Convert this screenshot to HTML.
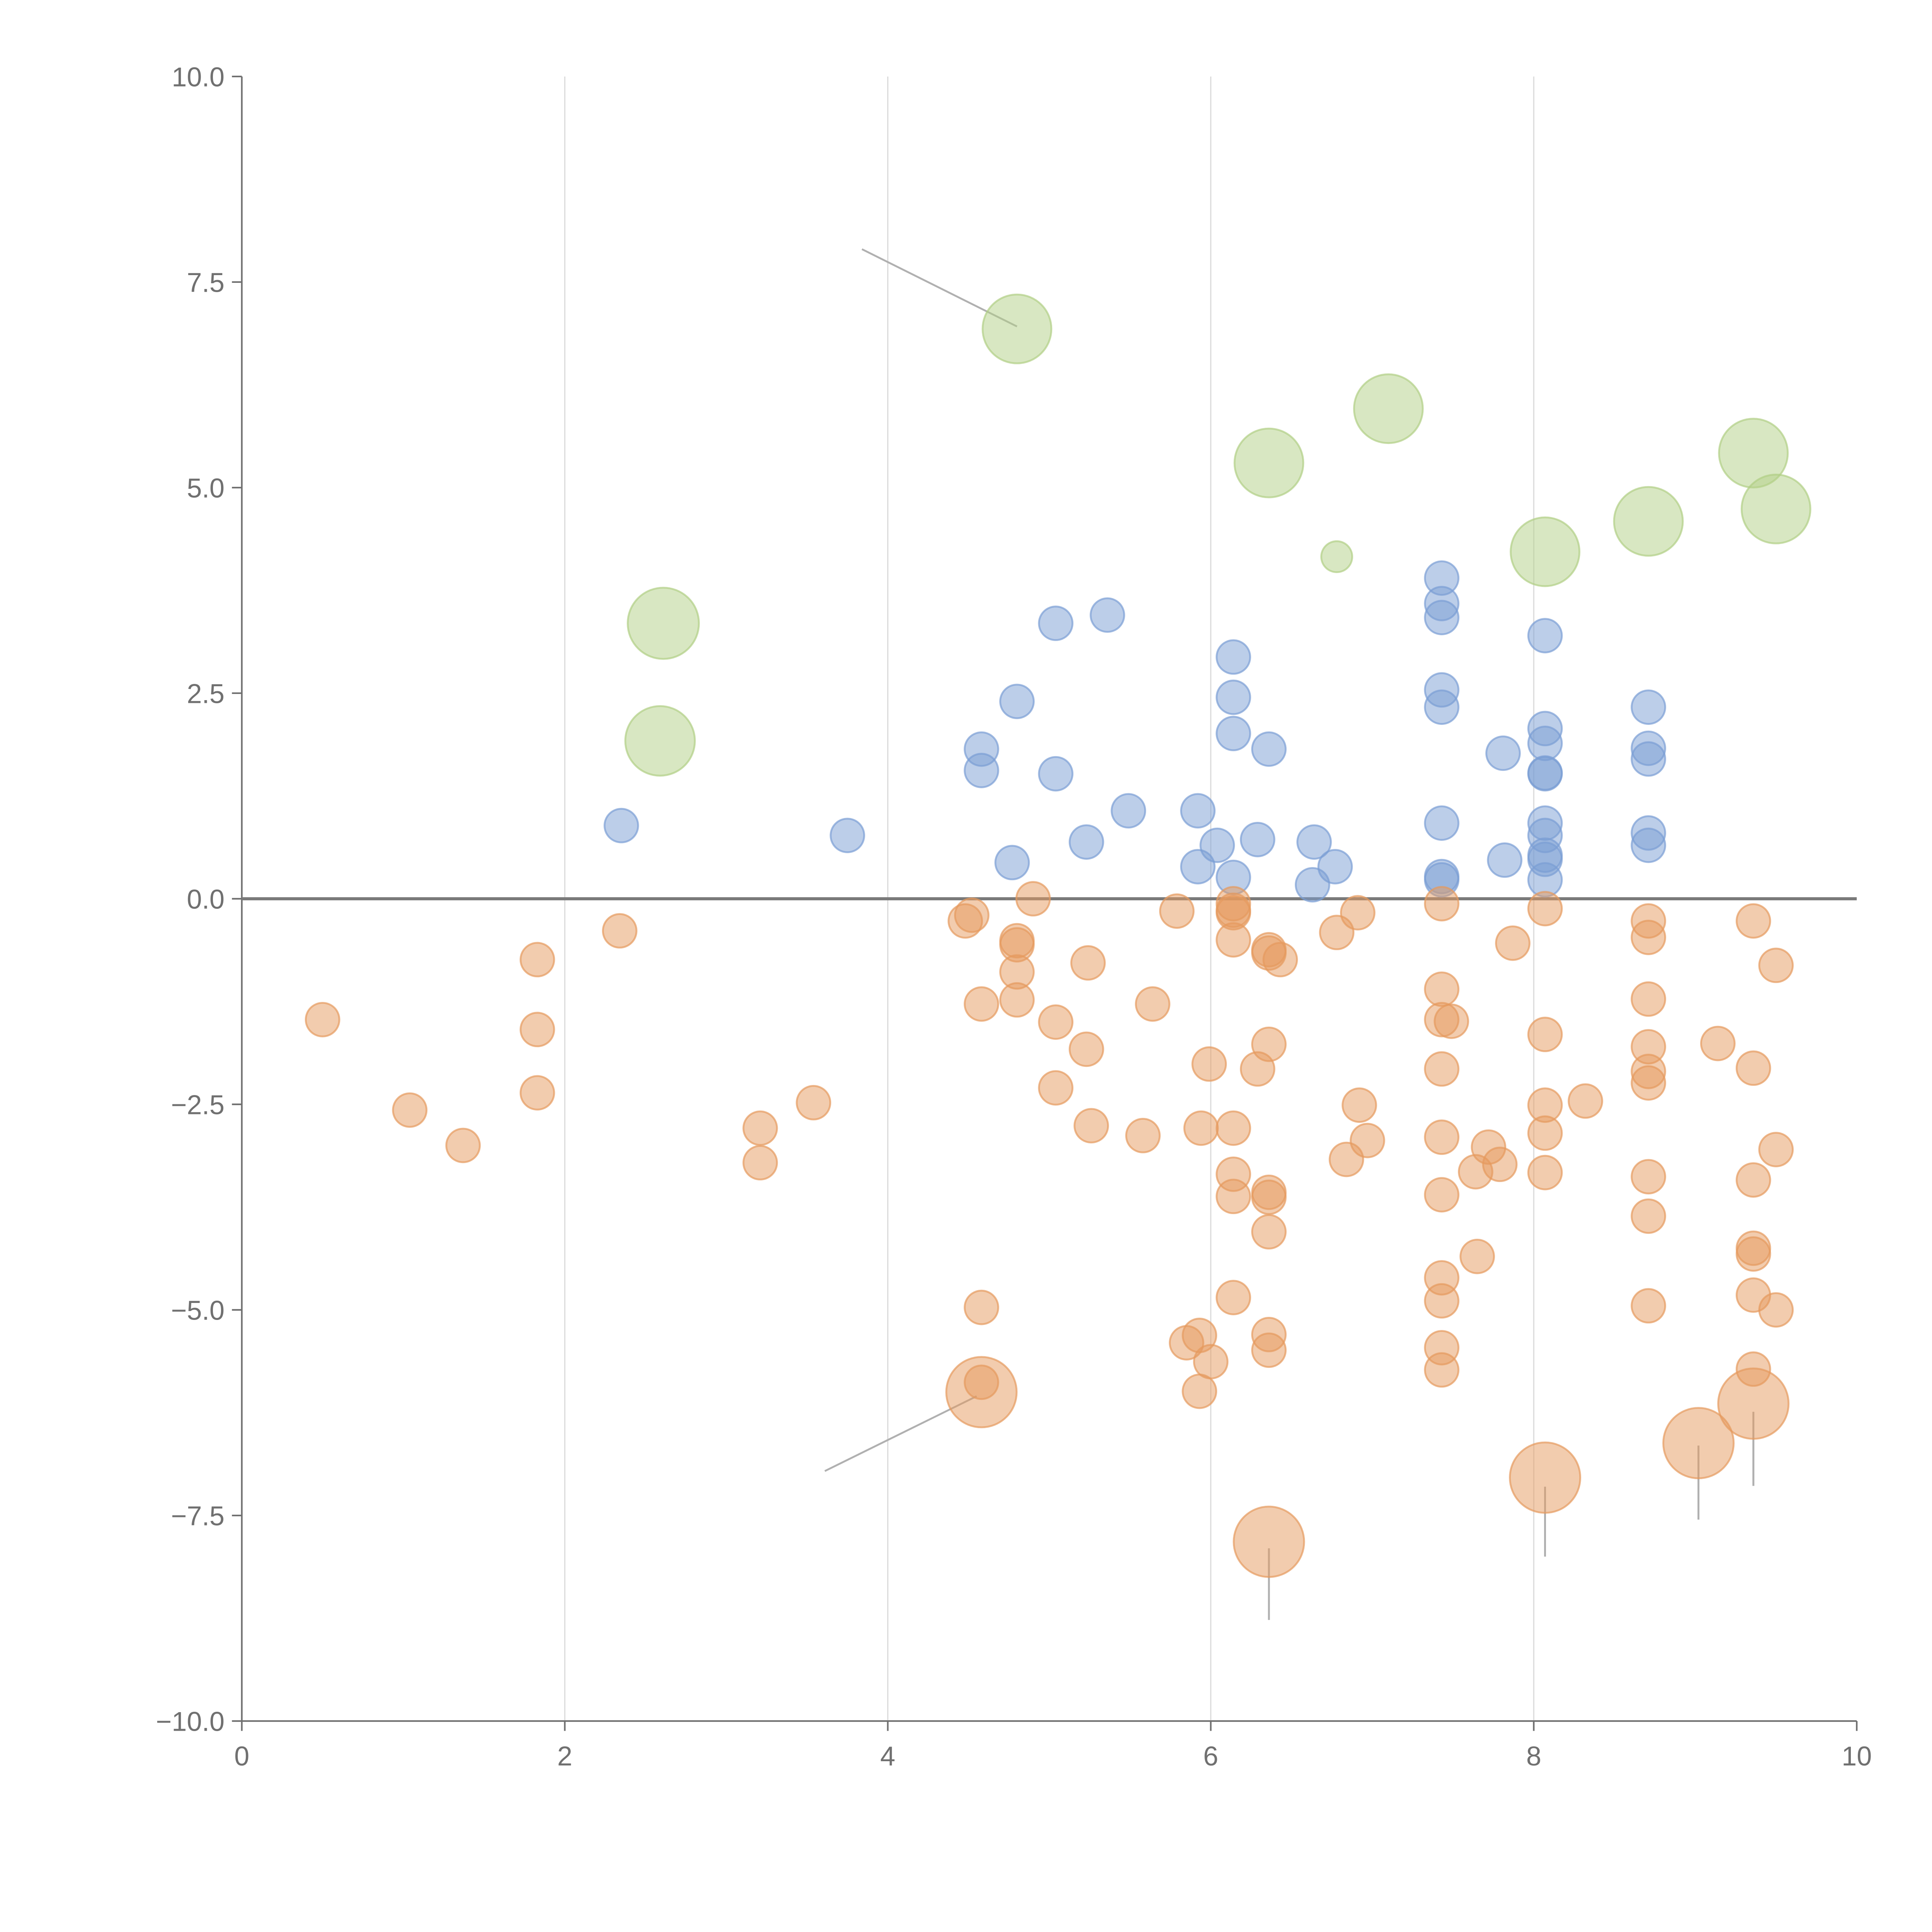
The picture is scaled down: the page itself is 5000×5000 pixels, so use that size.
<!DOCTYPE html>
<html><head><meta charset="utf-8"><style>
html,body{margin:0;padding:0;background:#fff;}
svg{display:block;}
text{font-family:"Liberation Sans",sans-serif;fill:#707070;}
</style></head><body>
<svg id="chart" width="5000" height="5000" viewBox="0 0 1566 1566" xmlns="http://www.w3.org/2000/svg">
<g id="grid"></g>
<g id="axes"></g>
<g id="notes"></g>
<g id="marks"></g>
</svg>
<script>
const xTicks=[0,2,4,6,8,10];
const yTicks=[-10,-7.5,-5,-2.5,0,2.5,5,7.5,10];
const yTickLabels=["\u221210.0","\u22127.5","\u22125.0","\u22122.5","0.0","2.5","5.0","7.5","10.0"];
const blueX=[2.35,3.75,4.58,4.58,4.8,4.77,5.04,5.04,5.36,5.23,5.49,5.92,5.92,6.04,6.14,6.14,6.14,6.14,6.36,6.29,6.64,6.63,6.77,7.43,7.43,7.43,7.43,7.43,7.43,7.43,7.43,7.81,7.82,8.07,8.07,8.07,8.07,8.07,8.07,8.07,8.07,8.07,8.07,8.71,8.71,8.71,8.71,8.71];
const blueY=[0.89,0.77,1.82,1.56,2.40,0.44,3.35,1.52,3.45,0.69,1.07,1.07,0.39,0.65,2.94,2.45,2.01,0.26,1.82,0.72,0.69,0.17,0.39,3.90,3.59,3.42,2.54,2.33,0.92,0.27,0.23,1.77,0.47,3.20,2.07,1.89,1.53,1.52,0.92,0.77,0.53,0.48,0.23,2.33,1.83,1.70,0.80,0.65];
const greenX=[4.8,6.36,7.10,6.78,2.61,2.59,8.07,8.71,9.36,9.50];
const greenY=[6.93,5.30,5.96,4.16,3.35,1.92,4.22,4.59,5.42,4.74];
const greenSize=[4.2,4.2,4.2,0.85,4.5,4.3,4.2,4.2,4.2,4.2];
const orangeX=[0.50,1.04,1.37,1.83,1.83,1.83,2.34,3.21,3.21,3.54,4.48,4.52,4.58,4.58,4.58,4.8,4.8,4.8,4.8,4.90,5.04,5.04,5.24,5.23,5.26,5.58,5.64,5.79,5.99,5.94,5.85,5.93,6.00,5.93,6.14,6.14,6.14,6.14,6.14,6.14,6.14,6.14,6.36,6.36,6.43,6.36,6.29,6.36,6.36,6.36,6.36,6.36,6.78,6.91,6.92,6.97,6.84,7.43,7.43,7.43,7.49,7.43,7.43,7.43,7.43,7.43,7.43,7.43,7.64,7.72,7.79,7.65,7.87,8.07,8.07,8.07,8.07,8.07,8.32,8.71,8.71,8.71,8.71,8.71,8.71,8.71,8.71,8.71,9.14,9.36,9.36,9.36,9.36,9.36,9.36,9.36,9.50,9.50,9.50,4.58,6.36,8.07,9.02,9.36];
const orangeY=[-1.47,-2.57,-3.00,-0.74,-1.59,-2.36,-0.39,-2.79,-3.21,-2.48,-0.27,-0.20,-1.28,-4.97,-5.88,-0.51,-0.56,-0.89,-1.23,0.0,-1.50,-2.30,-0.78,-1.83,-2.76,-2.88,-1.28,-0.15,-2.01,-2.79,-5.40,-5.31,-5.63,-5.99,-0.06,-0.14,-0.17,-0.50,-2.79,-3.35,-3.62,-4.85,-0.62,-0.66,-0.74,-1.77,-2.07,-3.57,-3.63,-4.05,-5.30,-5.49,-0.41,-0.17,-2.51,-2.94,-3.17,-0.06,-1.10,-1.47,-1.49,-2.07,-2.90,-3.60,-4.61,-4.89,-5.46,-5.73,-3.32,-3.02,-3.23,-4.35,-0.54,-0.12,-1.65,-2.51,-2.85,-3.33,-2.46,-0.27,-0.47,-1.22,-1.80,-2.10,-2.24,-3.38,-3.86,-4.95,-1.76,-0.27,-2.06,-3.42,-4.25,-4.32,-4.82,-5.72,-0.81,-3.05,-5.00,-6.00,-7.82,-7.04,-6.62,-6.14];
const orangeSize=orangeX.map((_,i)=>i>=orangeX.length-5?4.4:1);
const annotX1=[3.84,3.61,6.36,8.07,9.02,9.36];
const annotY1=[7.9,-6.96,-7.9,-7.15,-6.65,-6.24];
const annotX2=[4.8,4.55,6.36,8.07,9.02,9.36];
const annotY2=[6.96,-6.05,-8.77,-8.0,-7.55,-7.14];

const X0=196,X1=1505,Y0=1395,Y1=62;
const xs=v=>X0+(v-0)/(10-0)*(X1-X0);
const ys=v=>Y0-(v+10)/20*(Y0-Y1);
const rs=s=>13.6*Math.sqrt(s);
const NS="http://www.w3.org/2000/svg";
function mk(parent,tag,attrs){const e=document.createElementNS(NS,tag);for(const k in attrs)e.setAttribute(k,attrs[k]);parent.appendChild(e);return e;}
const grid=document.getElementById('grid'),axes=document.getElementById('axes'),marks=document.getElementById('marks'),notes=document.getElementById('notes');
xTicks.forEach(t=>{
  if(t>0&&t<10){const g=mk(grid,'line',{x1:xs(t),x2:xs(t),y1:Y1,y2:Y0,stroke:'#dcdcdc','stroke-width':1});
  
  }
  const tk=mk(axes,'line',{x1:xs(t),x2:xs(t),y1:Y0,y2:Y0+8,stroke:'#707070','stroke-width':1.3});
  
  
  const tx=mk(axes,'text',{x:xs(t),y:Y0+36,'text-anchor':'middle','font-size':22});
  tx.textContent=String(t);
  
  
});
yTicks.forEach((t,i)=>{
  const tk=mk(axes,'line',{x1:X0-8,x2:X0,y1:ys(t),y2:ys(t),stroke:'#707070','stroke-width':1.3});
  
  
  const tx=mk(axes,'text',{x:X0-14,y:ys(t)+8,'text-anchor':'end','font-size':22});
  tx.textContent=yTickLabels[i];
  
  
});
const xa=mk(axes,'line',{x1:X0,x2:X1,y1:Y0,y2:Y0,stroke:'#707070','stroke-width':1.3});


const ya=mk(axes,'line',{x1:X0,x2:X0,y1:Y1,y2:Y0,stroke:'#707070','stroke-width':1.3});


annotX1.forEach((v,i)=>{
  const l=mk(notes,'line',{x1:xs(v),y1:ys(annotY1[i]),x2:xs(annotX2[i]),y2:ys(annotY2[i]),stroke:'#b0b0b0','stroke-width':1.5});
  
  
});
function series(xa,ya,sa,color,name){
  xa.forEach((v,i)=>{
    const c=mk(marks,'circle',{cx:xs(v),cy:ys(ya[i]),r:rs(sa?sa[i]:1),fill:color,'fill-opacity':0.5,stroke:color,'stroke-opacity':0.7,'stroke-width':1.5});
    
    
  });
}
series(blueX,blueY,null,'#7a9ed4','blue-bubble');
series(greenX,greenY,greenSize,'#b1cf85','green-bubble');
series(orangeX,orangeY,orangeSize,'#e69a5e','orange-bubble');
const z=mk(axes,'line',{x1:X0,x2:X1,y1:ys(0),y2:ys(0),stroke:'#7a7a7a','stroke-width':2.5});


annotX1.slice(2).forEach((v,i)=>{
  const l=mk(axes,'line',{x1:xs(v),y1:ys(annotY1[i+2]),x2:xs(annotX2[i+2]),y2:ys(annotY2[i+2]),stroke:'#a0a0a0','stroke-width':1.5});
  
  
});
</script>
</body></html>
